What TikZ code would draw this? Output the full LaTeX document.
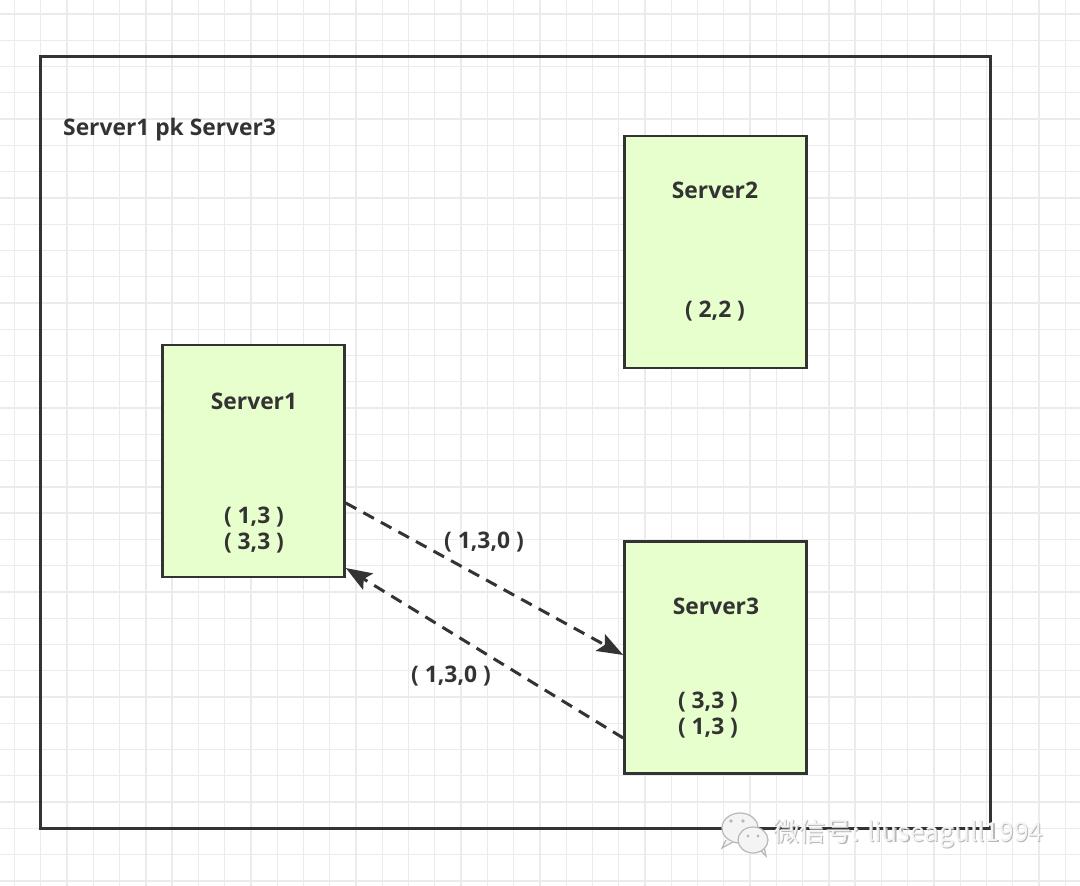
\documentclass[tikz,border=0pt]{standalone}
\usepackage{fontspec}
\setmainfont{Open Sans}
\newfontfamily\cjkfont{Noto Sans CJK SC}
\usetikzlibrary{arrows.meta}
\definecolor{gridc}{HTML}{EBEBEB}
\definecolor{inkc}{HTML}{333333}
\definecolor{boxfill}{HTML}{E6FFCC}
\definecolor{wmshadow}{HTML}{B8B8B8}
\definecolor{wmfill}{HTML}{F4F4F4}
\tikzset{
  gridline/.style={draw=gridc, line width=1.3pt},
  frame/.style={draw=inkc, line width=3pt},
  serverbox/.style={draw=inkc, fill=boxfill, line width=2.6pt, minimum width=182pt, minimum height=232pt, inner sep=0pt},
  lbl/.style={text=inkc, font=\bfseries\fontsize{22.8}{26}\selectfont, inner sep=0pt},
  flow/.style={draw=inkc, line width=3pt, dash pattern=on 12pt off 8pt, -{Stealth[length=26pt,width=19pt,inset=5pt]}},
  wmtext/.style={font=\cjkfont\fontsize{26.3}{30}\selectfont, inner sep=0pt, anchor=west},
  bubble/.style={draw=wmshadow, fill=wmfill, line width=1.2pt},
}
\begin{document}
\begin{tikzpicture}[x=1pt,y=-1pt]
\useasboundingbox[fill=white] (0,0) rectangle (1080,886);
% grid
\foreach \i in {0,...,40} \draw[gridline] (14.5+26.27*\i,0) -- (14.5+26.27*\i,886);
\foreach \j in {0,...,33} \draw[gridline] (0,14+26.27*\j) -- (1080,14+26.27*\j);
% frame
\draw[frame] (40,56) rectangle (990,828);
\node[lbl, anchor=west] (title) at (63,130) {Server1 pk Server3};
% servers
\node[serverbox] (s1) at (253.5,461) {};
\node[serverbox] (s2) at (715.5,252) {};
\node[serverbox] (s3) at (715.5,657.5) {};
\node[lbl] (s1n) at (254,401) {Server1};
\node[lbl] (s1a) at (254,517) {( 1,3 )};
\node[lbl] (s1b) at (254,543) {( 3,3 )};
\node[lbl] (s2n) at (715,190) {Server2};
\node[lbl] (s2a) at (715,311) {( 2,2 )};
\node[lbl] (s3n) at (716,606) {Server3};
\node[lbl] (s3a) at (708,702) {( 3,3 )};
\node[lbl] (s3b) at (708,728) {( 1,3 )};
% connectors
\coordinate (a1s) at ([yshift=-42pt]s1.east);
\coordinate (a1e) at ([yshift=2.5pt]s3.west);
\coordinate (a2s) at ([yshift=-80.5pt]s3.west);
\coordinate (a2e) at ([yshift=-107pt]s1.east);
\draw[flow] (a1s) -- (a1e);
\draw[flow] (a2s) -- (a2e);
\node[lbl] (m1) at (484,542) {( 1,3,0 )};
\node[lbl] (m2) at (451,676) {( 1,3,0 )};
% watermark
\begin{scope}
\draw[bubble] (740,828) ellipse (18 and 15);
\draw[bubble] (726,840) -- (722,848) -- (733,842);
\draw[bubble] (760,850) -- (766,856) -- (764,846);
\draw[bubble] (753,840) ellipse (15 and 13);
\fill[wmshadow] (731,821) circle (1.8) (743,821) circle (1.8) (748,836) circle (1.6) (758,836) circle (1.6);
\end{scope}
\node[wmtext, text=wmshadow] (wmsh) at (774.2,835) {微信号: liuseagull1994};
\node[wmtext, text=wmfill] (wm) at (773,833.8) {微信号: liuseagull1994};
\end{tikzpicture}
\end{document}
